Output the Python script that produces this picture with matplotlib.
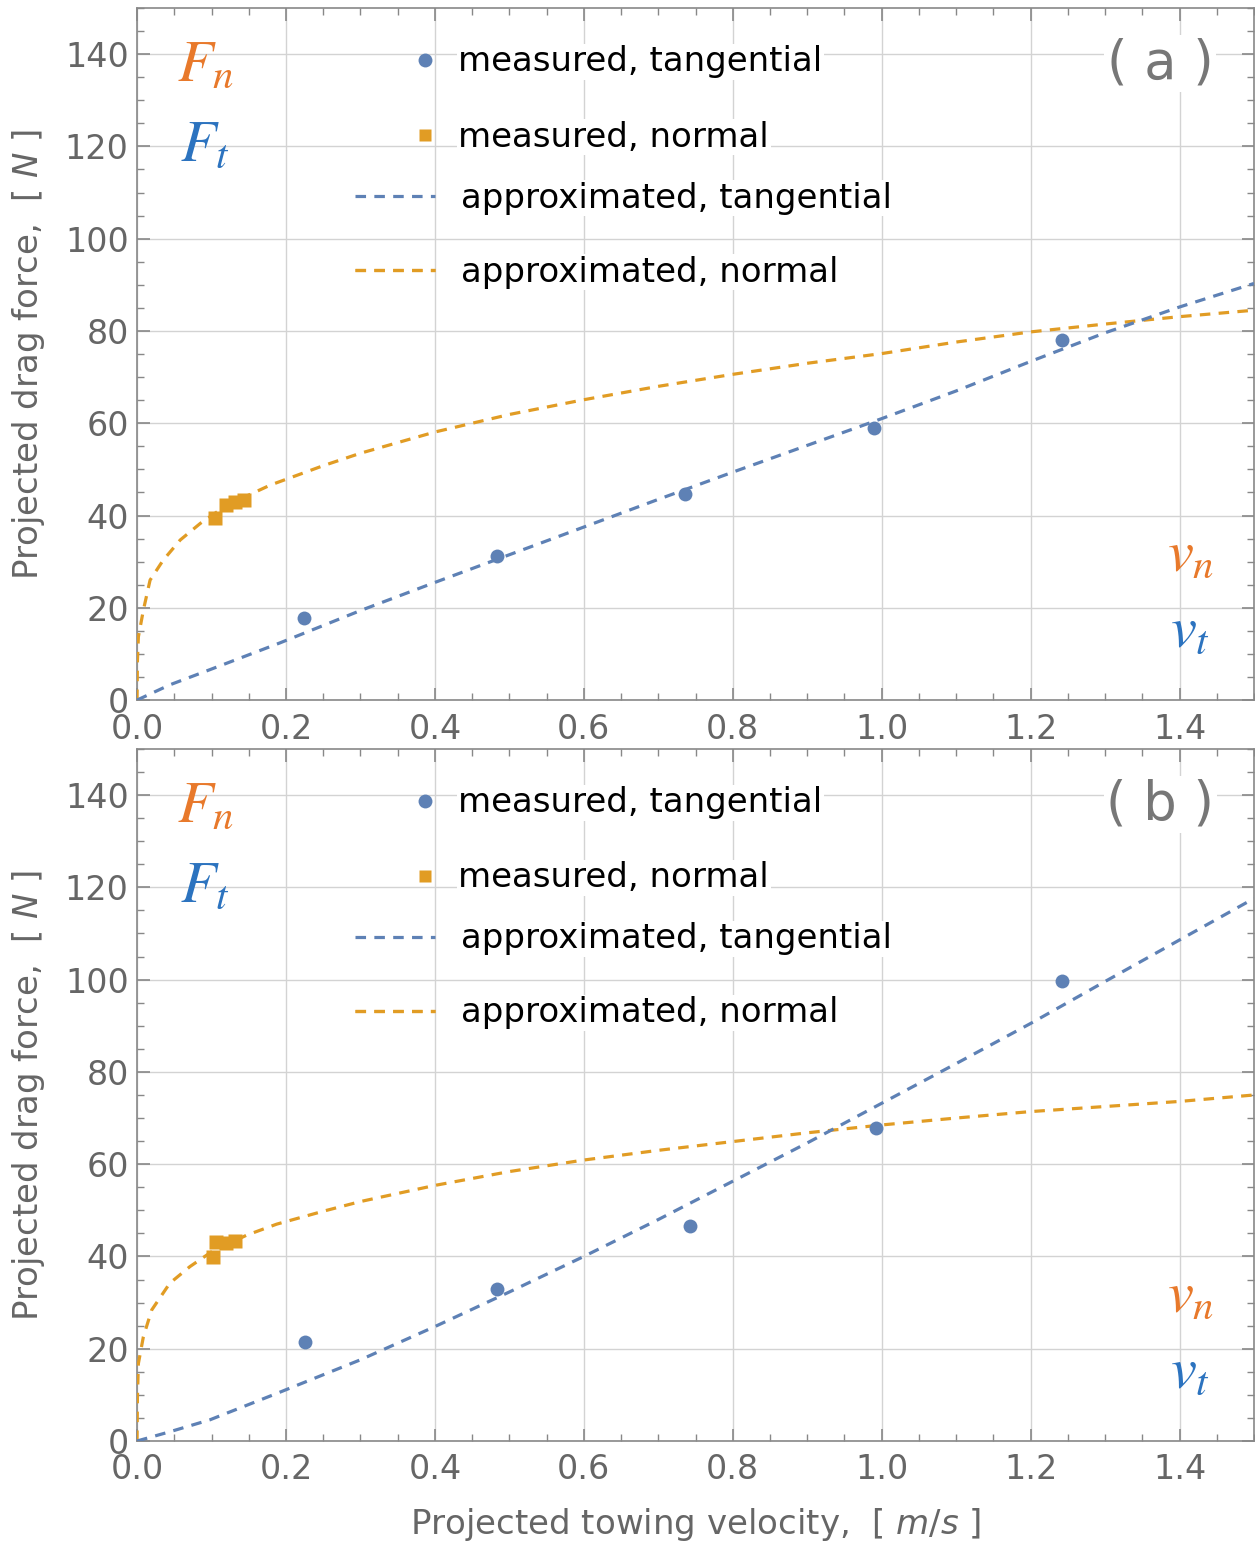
import matplotlib
matplotlib.use("Agg")
import matplotlib.pyplot as plt
from matplotlib.lines import Line2D
from matplotlib.ticker import FormatStrFormatter
import numpy as np

# ---- data ----
# panel (a)
meas_t_v_a = [0.224, 0.483, 0.736, 0.990, 1.242]
meas_t_f_a = [17.8, 31.2, 44.6, 59.0, 78.0]
meas_n_v_a = [0.105, 0.120, 0.132, 0.143]
meas_n_f_a = [39.4, 42.3, 43.0, 43.3]

fit_t_v_a = [0.0, 0.044, 0.098, 0.192, 0.3, 0.4, 0.5, 0.6, 0.7, 0.8, 0.9,
             1.0, 1.1, 1.2, 1.3, 1.4, 1.5]
fit_t_f_a = [0.0, 3.3, 6.6, 12.4, 19.4, 25.5, 31.5, 37.5, 43.5, 49.4, 55.2,
             61.0, 67.0, 73.4, 79.6, 85.2, 90.3]
fit_n_v_a = [0.0, 0.0005, 0.0018, 0.0085, 0.0175, 0.035, 0.058, 0.085, 0.12,
             0.179, 0.25, 0.3, 0.4, 0.5, 0.6, 0.7, 0.8, 0.9, 1.0, 1.1, 1.2,
             1.3, 1.4, 1.5]
fit_n_f_a = [0.0, 8.5, 13.7, 19.5, 26.0, 30.3, 34.7, 38.3, 42.2,
             46.6, 50.8, 53.5, 58.1, 61.9, 65.1, 68.0, 70.6, 73.0, 75.1,
             77.6, 79.8, 81.5, 83.1, 84.5]

# panel (b)
meas_t_v_b = [0.225, 0.484, 0.743, 0.992, 1.242]
meas_t_f_b = [21.5, 32.9, 46.6, 67.8, 99.7]
meas_n_v_b = [0.102, 0.106, 0.119, 0.132]
meas_n_f_b = [39.9, 43.2, 42.9, 43.3]

fit_t_v_b = [0.0, 0.044, 0.098, 0.1875, 0.3, 0.4, 0.5, 0.6, 0.7, 0.8, 0.9,
             1.0, 1.1, 1.2, 1.3, 1.4, 1.5]
fit_t_f_b = [0.0, 2.0, 4.6, 10.3, 17.6, 24.8, 32.3, 40.0, 48.0, 56.3, 64.6,
             73.2, 81.8, 90.5, 99.6, 108.6, 117.6]
fit_n_v_b = [0.0, 0.0005, 0.0018, 0.0085, 0.0197, 0.044, 0.071, 0.1, 0.147,
             0.1875, 0.25, 0.3, 0.4, 0.5, 0.6, 0.7, 0.8, 0.9, 1.0, 1.1, 1.2,
             1.3, 1.4, 1.5]
fit_n_f_b = [0.0, 9.5, 16.8, 22.6, 28.4, 34.2, 37.8, 41.0, 44.6,
             47.0, 49.8, 51.9, 55.4, 58.4, 60.9, 63.0, 64.9, 66.8, 68.5,
             70.0, 71.4, 72.5, 73.6, 75.0]

panels = [
    ("a", meas_t_v_a, meas_t_f_a, meas_n_v_a, meas_n_f_a,
     fit_t_v_a, fit_t_f_a, fit_n_v_a, fit_n_f_a),
    ("b", meas_t_v_b, meas_t_f_b, meas_n_v_b, meas_n_f_b,
     fit_t_v_b, fit_t_f_b, fit_n_v_b, fit_n_f_b),
]

blue = "#5E81B5"
orange = "#E19C24"
txt_orange = "#E8792B"
txt_blue = "#2C73BF"
grey = "#666666"
fs = 24.5

plt.rcParams["font.family"] = "DejaVu Sans"

fig = plt.figure(figsize=(12.55, 15.42), dpi=100)
boxes = [[0.1092, 0.5460, 0.890, 0.4488], [0.1092, 0.0655, 0.890, 0.4488]]


def legend_row(ax, handle, label, x, y, hl, pad):
    leg = ax.legend([handle], [label], loc="center left", bbox_to_anchor=(x, y),
                    frameon=False, fontsize=fs, handlelength=hl,
                    handletextpad=pad, borderpad=0, borderaxespad=0)
    for t in leg.get_texts():
        t.set_bbox(dict(facecolor="white", edgecolor="none", pad=1))
    ax.add_artist(leg)


for box, (tag, mtv, mtf, mnv, mnf, ftv, ftf, fnv, fnf) in zip(boxes, panels):
    ax = fig.add_axes(box)
    dash = (3.3, 2.6)
    ax.plot(fnv, fnf, color=orange, lw=2.3, dashes=dash, zorder=3)
    ax.plot(ftv, ftf, color=blue, lw=2.3, dashes=dash, zorder=3)
    ax.plot(mtv, mtf, "o", color=blue, ms=10, mec="none", zorder=4)
    ax.plot(mnv, mnf, "s", color=orange, ms=10, mec="none", zorder=4)

    ax.set_xlim(0, 1.5)
    ax.set_ylim(0, 150)
    ax.set_xticks(np.arange(0, 1.41, 0.2))
    ax.set_xticks(np.arange(0, 1.51, 0.05), minor=True)
    ax.set_yticks(np.arange(0, 141, 20))
    ax.set_yticks(np.arange(0, 151, 5), minor=True)
    ax.xaxis.set_major_formatter(FormatStrFormatter("%.1f"))
    ax.grid(True, which="major", color="#d3d3d3", lw=1.0, zorder=0)
    ax.tick_params(which="both", direction="in", top=True, right=True,
                   color="#888888", labelcolor=grey, labelsize=24)
    ax.tick_params(which="major", length=9, width=1.2, pad=6)
    ax.tick_params(axis="x", which="major", pad=9)
    ax.tick_params(which="minor", length=5, width=1.0)
    for s in ax.spines.values():
        s.set_color("#888888")
        s.set_linewidth(1.2)
    ax.set_ylabel("Projected drag force,  [ $\\mathit{N}$ ]", color=grey,
                  fontsize=fs, labelpad=13, math_fontfamily="dejavusans")

    # legend rows
    legend_row(ax, Line2D([], [], ls="none", marker="o", color=blue, ms=10, mec="none"),
               "measured, tangential", 0.2457, 0.922, 0.8, 0.58)
    legend_row(ax, Line2D([], [], ls="none", marker="s", color=orange, ms=9, mec="none"),
               "measured, normal", 0.2457, 0.8136, 0.8, 0.58)
    legend_row(ax, Line2D([], [], color=blue, lw=2.3, dashes=dash),
               "approximated, tangential", 0.1952, 0.7254, 2.35, 0.76)
    legend_row(ax, Line2D([], [], color=orange, lw=2.3, dashes=dash),
               "approximated, normal", 0.1952, 0.6185, 2.35, 0.76)

    ax.text(0.916, 0.92, "( %s )" % tag, transform=ax.transAxes, color="#777777",
            fontsize=38, ha="center", va="center",
            bbox=dict(facecolor="white", edgecolor="none", pad=2), zorder=5)
    for s, c, x, y in [("$F_n$", txt_orange, 0.061, 0.918),
                       ("$F_t$", txt_blue, 0.061, 0.802),
                       ("$v_n$", txt_orange, 0.943, 0.21),
                       ("$v_t$", txt_blue, 0.943, 0.10)]:
        ax.text(x, y, s, transform=ax.transAxes, color=c, fontsize=42,
                ha="center", va="center", math_fontfamily="stix")

ax.set_xlabel("Projected towing velocity,  [ $\\mathit{m/s}$ ]", color=grey,
              fontsize=fs, labelpad=14, math_fontfamily="dejavusans")

fig.savefig("out.png", dpi=100)
